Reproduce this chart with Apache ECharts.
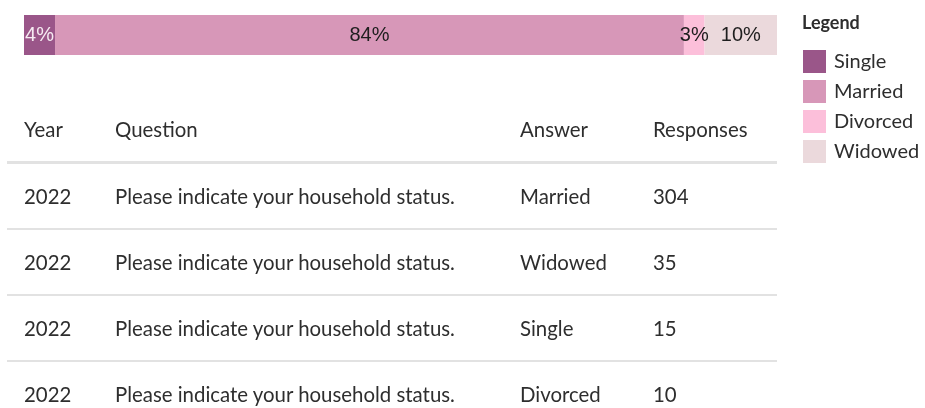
<!DOCTYPE html>
<html>
<head>
<meta charset="utf-8">
<script src="https://cdn.jsdelivr.net/npm/echarts@6/dist/echarts.min.js"></script>
<style>
  html, body { margin: 0; padding: 0; background: #fff; }
  #wrap { position: relative; width: 925px; height: 408px; overflow: hidden; }
  #chart { position: absolute; left: 0; top: 0; width: 925px; height: 408px; }
  #table {
    position: absolute; left: 7px; top: 97px; width: 770px;
    border-collapse: separate; border-spacing: 0;
    font-family: Lato, sans-serif; font-size: 20.4px; color: #2e2e2e;
  }
  #table th, #table td {
    padding: 0 0 0 17px; text-align: left; font-weight: normal; white-space: nowrap;
  }
  #table th { height: 64px; border-bottom: 3px solid #e2e2e2; }
  #table td { height: 64px; border-bottom: 2px solid #e2e2e2; }
  #table tr:last-child td { border-bottom: none; }
</style>
</head>
<body>
<div id="wrap">
  <div id="chart"></div>
  <table id="table"><thead></thead><tbody></tbody></table>
</div>
<script>
// answers in the bar order
const answers = ['Single', 'Married', 'Divorced', 'Widowed']
const counts = [15, 304, 10, 35]
const colors = ['#9a5689', '#d797b8', '#fcbfda', '#ebd9dc']
const labelColors = ['#f6ebf2', '#1e1e1e', '#1e1e1e', '#1e1e1e']

// table rows (as listed)
const headers = ['Year', 'Question', 'Answer', 'Responses']
const years = ['2022', '2022', '2022', '2022']
const questions = [
  'Please indicate your household status.',
  'Please indicate your household status.',
  'Please indicate your household status.',
  'Please indicate your household status.'
]
const rowAnswers = ['Married', 'Widowed', 'Single', 'Divorced']
const rowResponses = [304, 35, 15, 10]

const total = counts.reduce((a, b) => a + b, 0)

// table
const thead = document.querySelector('#table thead')
thead.innerHTML = '<tr>' + headers.map(h => '<th>' + h + '</th>').join('') + '</tr>'
const tbody = document.querySelector('#table tbody')
tbody.innerHTML = years.map((y, i) =>
  '<tr><td style="width:74px">' + y + '</td><td style="width:388px">' + questions[i] +
  '</td><td style="width:116px">' + rowAnswers[i] + '</td><td>' + rowResponses[i] + '</td></tr>'
).join('')

const chart = echarts.init(document.getElementById('chart'))
chart.setOption({
  animation: false,
  title: {
    text: 'Legend',
    left: 797,
    top: 9,
    textStyle: { fontFamily: 'Lato', fontSize: 18, fontWeight: 'bold', color: '#2e2e2e' }
  },
  legend: {
    orient: 'vertical',
    left: 798,
    top: 45,
    icon: 'rect',
    itemWidth: 23,
    itemHeight: 23,
    itemGap: 7,
    data: answers,
    textStyle: { fontFamily: 'Lato', fontSize: 20, color: '#2e2e2e', padding: [0, 0, 0, 3] }
  },
  grid: { left: 24, right: 148, top: 15, height: 40 },
  xAxis: { type: 'value', min: 0, max: total, show: false },
  yAxis: { type: 'category', data: ['status'], show: false },
  series: answers.map((name, i) => ({
    name: name,
    type: 'bar',
    stack: 'total',
    barWidth: 40,
    itemStyle: { color: colors[i] },
    label: {
      show: true,
      position: 'inside',
      fontFamily: 'Liberation Sans',
      fontSize: 20,
      color: labelColors[i],
      formatter: () => Math.round(counts[i] / total * 100) + '%'
    },
    labelLayout: { hideOverlap: false },
    data: [counts[i]]
  }))
})
</script>
</body>
</html>
